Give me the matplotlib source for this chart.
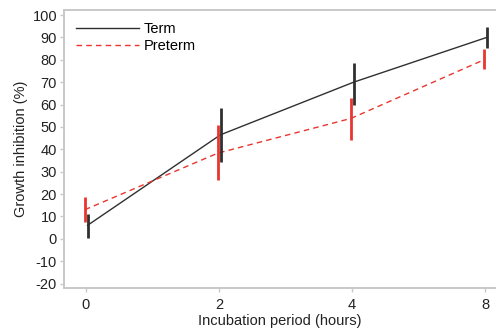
import matplotlib
matplotlib.use("Agg")
import matplotlib.pyplot as plt

# Data
hours = ["0", "2", "4", "8"]
term_mean = [6.0, 46.5, 70.0, 90.0]
term_err_low = [5.5, 12.0, 10.0, 4.8]
term_err_high = [5.0, 12.0, 8.7, 4.5]
preterm_mean = [13.0, 38.3, 53.8, 80.0]
preterm_err_low = [5.5, 12.2, 9.7, 4.3]
preterm_err_high = [5.5, 12.5, 9.2, 5.0]

GREY = "#c8c8c8"
TERM_COLOUR = "#303030"
PRETERM_COLOUR = "#e8362e"

plt.rcParams["font.family"] = ["Liberation Sans", "DejaVu Sans"]
plt.rcParams["font.size"] = 10.5
plt.rcParams["axes.unicode_minus"] = False

fig = plt.figure(figsize=(4.96, 3.28), dpi=100)
ax = fig.add_axes([0.129, 0.122, 0.871, 0.849])

pos = list(range(len(hours)))
term_x = [p + 0.012 for p in pos]
preterm_x = [p - 0.008 for p in pos]

# Lines
ax.plot(term_x, term_mean, color=TERM_COLOUR, lw=1.0, label="Term")
ax.plot(preterm_x, preterm_mean, color=PRETERM_COLOUR, lw=1.0, ls=(0, (4, 3)),
        label="Preterm")

# Error bars (no caps)
ax.errorbar(term_x, term_mean, yerr=[term_err_low, term_err_high], fmt="none",
            ecolor=TERM_COLOUR, elinewidth=2.0, capsize=0)
ax.errorbar(preterm_x, preterm_mean, yerr=[preterm_err_low, preterm_err_high],
            fmt="none", ecolor=PRETERM_COLOUR, elinewidth=2.0, capsize=0)

# Axes
ax.set_xlim(-0.165, 3.083)
ax.set_ylim(-22.0, 102.5)
ax.set_xticks(pos)
ax.set_xticklabels(hours)
ax.set_yticks(range(-20, 101, 10))

for side in ["left", "bottom", "top"]:
    ax.spines[side].set_color(GREY)
    ax.spines[side].set_linewidth(1.4)
ax.spines["right"].set_visible(False)
ax.tick_params(axis="both", color=GREY, length=3, width=1.0, labelcolor="#222222")
ax.tick_params(axis="y", pad=2)
ax.tick_params(axis="x", pad=4)

# Title and labels
ax.set_xlabel("Incubation period (hours)", labelpad=1.5, color="#222222")
ax.set_ylabel("Growth inhibition (%)", labelpad=3, color="#222222")

ax.legend(loc="upper left", frameon=False, handlelength=4.3, handletextpad=0.3,
          borderaxespad=0.45, labelspacing=0.2, bbox_to_anchor=(0.0, 1.0))

fig.savefig("out.png", dpi=100)
plt.close(fig)
